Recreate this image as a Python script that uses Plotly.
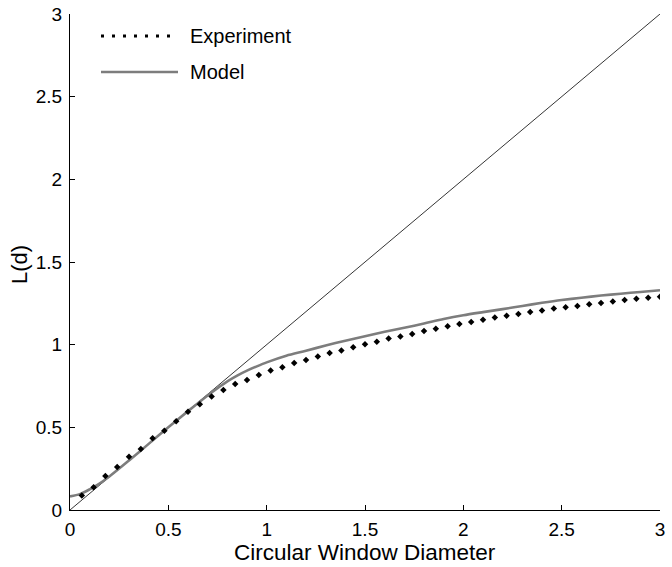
import plotly.graph_objects as go

# Experiment data (dotted markers)
exp_x = [0.06, 0.12, 0.18, 0.24, 0.30, 0.36, 0.42, 0.48, 0.54, 0.60,
         0.66, 0.72, 0.78, 0.84, 0.90, 0.96, 1.02, 1.08, 1.14, 1.20,
         1.26, 1.32, 1.38, 1.44, 1.50, 1.56, 1.62, 1.68, 1.74, 1.80,
         1.86, 1.92, 1.98, 2.04, 2.10, 2.16, 2.22, 2.28, 2.34, 2.40,
         2.46, 2.52, 2.58, 2.64, 2.70, 2.76, 2.82, 2.88, 2.94, 3.00]
exp_y = [0.087, 0.137, 0.205, 0.260, 0.322, 0.369, 0.434, 0.480, 0.537, 0.595,
         0.640, 0.686, 0.726, 0.762, 0.786, 0.817, 0.843, 0.863, 0.889, 0.907,
         0.929, 0.950, 0.965, 0.984, 1.002, 1.018, 1.037, 1.050, 1.065, 1.082,
         1.097, 1.111, 1.125, 1.137, 1.151, 1.165, 1.175, 1.186, 1.198, 1.207,
         1.218, 1.226, 1.234, 1.244, 1.252, 1.261, 1.270, 1.277, 1.284, 1.290]

# Model curve
model_x = [0.0, 0.05, 0.1, 0.15, 0.2, 0.3, 0.4, 0.5, 0.6, 0.7, 0.75, 0.8, 0.85, 0.9, 0.95,
           1.0, 1.1, 1.2, 1.3, 1.4, 1.5, 1.6, 1.7, 1.8, 1.9, 2.0,
           2.1, 2.2, 2.3, 2.4, 2.5, 2.6, 2.7, 2.8, 2.9, 3.0]
model_y = [0.082, 0.096, 0.125, 0.160, 0.203, 0.300, 0.400, 0.500, 0.598, 0.693, 0.737, 0.778,
           0.813, 0.843, 0.869,
           0.893, 0.933, 0.963, 0.995, 1.024, 1.051, 1.078, 1.102, 1.128, 1.155, 1.178,
           1.197, 1.215, 1.234, 1.253, 1.270, 1.284, 1.297, 1.308, 1.319, 1.329]

# Reference diagonal L(d) = d
diag_x = [0, 3]
diag_y = [0, 3]

tick_vals = [0, 0.5, 1, 1.5, 2, 2.5, 3]
tick_text = ["0", "0.5", "1", "1.5", "2", "2.5", "3"]

legend_names = ["Experiment", "Model"]
x_title = "Circular Window Diameter"
y_title = "L(d)"

FONT = "Liberation Sans, Arial, sans-serif"
GRAY = "#7d7d7d"

W, H = 672, 567
L, R, T, B = 70, 660, 14, 510   # plot area in page pixels

def px(x):  # page x -> paper
    return (x - L) / (R - L)
def py(y):  # page y -> paper
    return (B - y) / (B - T)

fig = go.Figure()
fig.add_trace(go.Scatter(x=diag_x, y=diag_y, mode="lines",
                         line=dict(color="black", width=0.8), showlegend=False))
fig.add_trace(go.Scatter(x=model_x, y=model_y, mode="lines", name=legend_names[1],
                         line=dict(color=GRAY, width=2.6, shape="spline", smoothing=0.8),
                         showlegend=False))
fig.add_trace(go.Scatter(x=exp_x, y=exp_y, mode="markers", name=legend_names[0],
                         marker=dict(symbol="diamond", size=5, color="black"),
                         showlegend=False))

shapes = [
    dict(type="line", xref="paper", yref="paper", x0=px(101), x1=px(178), y0=py(36), y1=py(36),
         line=dict(color="black", width=3, dash="3px,8px")),
    dict(type="line", xref="paper", yref="paper", x0=px(101), x1=px(178), y0=py(72), y1=py(72),
         line=dict(color=GRAY, width=2.6)),
]
annotations = [
    dict(text=legend_names[0], xref="paper", yref="paper", x=px(188), y=py(36),
         xanchor="left", yanchor="middle", showarrow=False,
         font=dict(size=20, color="black", family=FONT)),
    dict(text=legend_names[1], xref="paper", yref="paper", x=px(188), y=py(72),
         xanchor="left", yanchor="middle", showarrow=False,
         font=dict(size=20, color="black", family=FONT)),
    dict(text=x_title, xref="paper", yref="paper", x=px(365), y=py(552),
         xanchor="center", yanchor="middle", showarrow=False,
         font=dict(size=22.5, color="black", family=FONT)),
    dict(text=y_title, xref="paper", yref="paper", x=px(19), y=py(265),
         xanchor="center", yanchor="middle", showarrow=False, textangle=-90,
         font=dict(size=22, color="black", family=FONT)),
]

axis_common = dict(range=[0, 3], showgrid=False, zeroline=False, showline=True,
                   linecolor="black", linewidth=1, ticks="inside", ticklen=5,
                   tickcolor="black", tickwidth=1, mirror=False, automargin=False,
                   tickvals=tick_vals, ticktext=tick_text,
                   tickfont=dict(size=19, color="black", family=FONT))

fig.update_layout(
    width=W, height=H,
    margin=dict(l=L, r=W - R, t=T, b=H - B, autoexpand=False),
    paper_bgcolor="white", plot_bgcolor="white",
    font=dict(family=FONT, color="black"),
    xaxis=dict(**axis_common, ticklabelstandoff=2),
    yaxis=dict(**axis_common, ticklabelstandoff=3),
    shapes=shapes, annotations=annotations,
    showlegend=False,
)

fig.write_html("out.html", config={"displayModeBar": False},
               post_script="document.body.style.margin='0';document.body.style.overflow='hidden';")
